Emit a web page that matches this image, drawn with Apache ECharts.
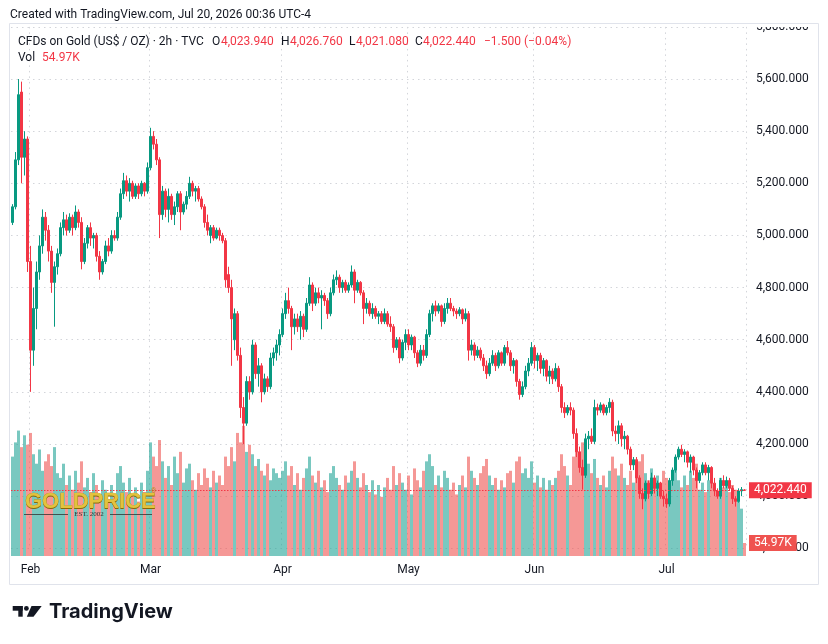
<!DOCTYPE html>
<html lang="en">
<head>
<meta charset="UTF-8">
<title>CFDs on Gold 2h</title>
<style>
    html, body { margin: 0; padding: 0; background: #fff; }
    #main { width: 828px; height: 644px; }
</style>
</head>
<body>
<div id="main"></div>
<script src="https://cdn.jsdelivr.net/npm/echarts@6/dist/echarts.min.js"></script>
<script>
    // half-day bars, [open, close, low, high]
    var candles = [
        [5050,5110,5040,5120],[5110,5290,5100,5320],[5290,5540,5270,5600],[5550,5300,5200,5590],[5300,5370,5230,5400],
        [5370,4900,4860,5380],[4900,4560,4400,4960],[4560,4720,4500,4800],[4720,4860,4640,4900],[4860,4960,4830,5000],
        [4960,5070,4930,5100],[5070,5020,4980,5090],[5020,4940,4900,5040],[4940,4820,4780,4960],[4820,4880,4650,4900],
        [4880,4930,4850,4950],[4930,5030,4920,5050],[5030,5060,5000,5090],[5060,5020,5000,5080],[5020,5070,5010,5085],
        [5070,5030,5000,5080],[5030,5090,5020,5115],[5090,5050,5030,5100],[5050,4900,4870,5070],[4900,4970,4890,4990],
        [4970,5030,4950,5040],[5030,4990,4960,5050],[4990,5000,4950,5010],[5000,4920,4900,5010],[4920,4860,4830,4940],
        [4860,4900,4850,4910],[4900,4960,4890,4980],[4960,4940,4920,4990],[4940,5000,4930,5020],[5000,4990,4980,5020],
        [4990,5070,4980,5090],[5070,5160,5060,5180],[5160,5210,5140,5240],[5210,5170,5150,5230],[5170,5200,5130,5220],
        [5200,5150,5140,5210],[5150,5190,5140,5200],[5190,5160,5140,5200],[5160,5200,5150,5210],[5200,5170,5150,5205],
        [5170,5260,5160,5280],[5260,5380,5250,5413],[5380,5350,5330,5400],[5350,5290,5270,5370],[5290,5080,4990,5300],
        [5080,5170,5060,5190],[5170,5100,5070,5180],[5100,5150,5050,5180],[5150,5080,5060,5160],[5080,5110,5040,5130],
        [5110,5160,5090,5170],[5160,5090,5020,5170],[5090,5120,5080,5130],[5120,5150,5100,5170],[5150,5200,5140,5225],
        [5200,5170,5150,5210],[5170,5180,5130,5190],[5180,5140,5130,5190],[5140,5110,5100,5150],[5110,5050,5030,5120],
        [5050,5020,5000,5080],[5000,5030,4970,5040],[5030,4990,4980,5040],[4990,5020,4985,5030],[5020,5000,4980,5030],
        [5000,4980,4970,5010],[4980,4830,4800,4990],[4850,4800,4780,4880],[4800,4680,4500,4830],[4600,4700,4560,4720],
        [4700,4540,4520,4710],[4540,4340,4300,4570],[4340,4280,4200,4380],[4280,4440,4270,4460],[4440,4400,4370,4460],
        [4400,4580,4390,4600],[4580,4470,4450,4590],[4470,4500,4420,4530],[4500,4400,4360,4510],[4400,4450,4390,4470],
        [4450,4420,4400,4460],[4420,4530,4410,4550],[4530,4550,4500,4570],[4550,4580,4520,4600],[4580,4620,4540,4640],
        [4620,4700,4610,4720],[4700,4750,4680,4780],[4750,4720,4700,4800],[4720,4650,4560,4730],[4650,4680,4620,4700],
        [4680,4650,4630,4700],[4650,4690,4600,4710],[4690,4640,4610,4700],[4640,4740,4630,4760],[4740,4810,4730,4840],
        [4810,4740,4710,4820],[4740,4780,4730,4800],[4780,4760,4740,4800],[4760,4770,4640,4790],[4770,4750,4730,4780],
        [4750,4700,4680,4760],[4700,4780,4690,4800],[4780,4830,4770,4850],[4830,4840,4810,4866],[4840,4800,4780,4850],
        [4800,4820,4780,4830],[4820,4790,4780,4830],[4790,4810,4780,4820],[4810,4860,4800,4885],[4860,4790,4740,4870],
        [4790,4820,4780,4830],[4820,4780,4770,4825],[4780,4720,4660,4790],[4720,4740,4700,4760],[4740,4700,4690,4750],
        [4700,4720,4680,4740],[4720,4690,4680,4730],[4690,4700,4660,4710],[4700,4670,4660,4710],[4670,4700,4660,4720],
        [4700,4660,4650,4710],[4660,4650,4630,4690],[4650,4570,4550,4660],[4570,4600,4560,4610],[4600,4530,4510,4610],
        [4530,4590,4520,4600],[4590,4620,4560,4640],[4620,4580,4560,4640],[4580,4610,4560,4620],[4610,4550,4530,4615],
        [4550,4510,4495,4560],[4510,4560,4500,4580],[4560,4540,4520,4580],[4540,4620,4530,4640],[4620,4700,4610,4715],
        [4700,4730,4670,4740],[4730,4710,4690,4750],[4710,4730,4700,4740],[4730,4670,4650,4735],[4670,4720,4660,4740],
        [4720,4740,4700,4760],[4740,4720,4710,4760],[4720,4710,4690,4730],[4710,4700,4680,4720],[4700,4715,4690,4725],
        [4715,4680,4660,4720],[4680,4700,4670,4720],[4700,4560,4520,4710],[4560,4580,4540,4600],[4580,4540,4520,4590],
        [4540,4560,4530,4575],[4560,4530,4520,4570],[4530,4500,4480,4545],[4500,4470,4450,4520],[4470,4510,4460,4530],
        [4510,4540,4500,4560],[4540,4500,4480,4550],[4500,4550,4490,4560],[4550,4510,4500,4555],[4510,4570,4500,4580],
        [4570,4550,4540,4595],[4550,4500,4480,4560],[4500,4520,4470,4530],[4520,4440,4420,4525],[4440,4390,4370,4450],
        [4390,4420,4380,4440],[4420,4480,4410,4500],[4480,4510,4460,4530],[4510,4570,4500,4591],[4570,4520,4490,4580],
        [4520,4540,4480,4550],[4540,4490,4470,4550],[4490,4520,4460,4530],[4520,4460,4440,4525],[4460,4480,4430,4500],
        [4480,4450,4430,4490],[4450,4490,4440,4510],[4490,4420,4400,4500],[4420,4340,4320,4430],[4340,4320,4300,4360],
        [4320,4340,4310,4350],[4340,4330,4310,4360],[4330,4240,4220,4340],[4240,4170,4150,4260],[4170,4110,4090,4190],
        [4110,4080,4025,4140],[4080,4220,4070,4240],[4220,4230,4180,4250],[4230,4210,4200,4260],[4210,4340,4200,4370],
        [4340,4330,4310,4355],[4330,4350,4320,4360],[4350,4320,4310,4355],[4320,4340,4310,4350],[4340,4360,4320,4376],
        [4360,4250,4230,4370],[4250,4240,4210,4270],[4240,4270,4200,4290],[4270,4220,4190,4280],[4220,4230,4180,4250],
        [4230,4180,4160,4235],[4180,4120,4100,4190],[4120,4140,4100,4150],[4140,4070,4050,4150],[4070,4010,3990,4080],
        [4010,3990,3950,4030],[3990,4050,3980,4060],[4050,4010,3990,4060],[4010,4070,4000,4090],[4070,4030,4010,4080],
        [4030,4050,4000,4060],[4050,4000,3990,4055],[4000,3990,3960,4020],[3990,3970,3955,4010],[3970,4060,3960,4070],
        [4060,4100,4040,4110],[4100,4150,4090,4160],[4150,4180,4140,4190],[4180,4160,4150,4197],[4160,4170,4130,4180],
        [4170,4130,4110,4175],[4130,4150,4090,4160],[4150,4100,4080,4155],[4100,4060,4030,4110],[4060,4090,4050,4100],
        [4090,4120,4080,4130],[4120,4090,4080,4130],[4090,4110,4060,4120],[4110,4050,4030,4115],[4050,4020,4000,4070],
        [4020,4000,3990,4030],[4000,4060,3990,4070],[4060,4040,4030,4080],[4040,4060,4030,4075],[4060,4030,4020,4070],
        [4030,3990,3970,4040],[3990,3980,3960,4000],[3980,4020,3975,4030],[4020,4025,4000,4035],[4023.94,4022.44,4021.08,4026.76]
    ];

    // volume, thousands
    var volumes = [
        420,480,530,460,510,470,520,430,390,450,
        360,400,430,380,460,350,330,390,300,340,
        280,360,310,400,290,330,270,350,300,260,
        320,280,240,300,260,350,380,310,270,330,
        250,290,230,310,270,360,480,420,380,490,
        400,330,380,300,420,350,440,310,370,390,
        320,280,350,300,370,330,290,360,310,340,
        300,420,380,460,400,520,480,550,440,470,
        430,380,410,360,340,390,320,370,350,330,
        360,400,340,380,300,350,280,330,370,420,
        340,310,360,290,320,270,350,380,330,300,
        280,340,310,360,400,330,290,350,300,270,
        320,260,300,250,290,330,280,380,300,350,
        310,280,340,260,370,320,290,360,400,430,
        380,300,340,290,360,330,280,310,260,300,
        340,290,420,360,330,300,350,380,410,340,
        300,330,280,320,290,350,360,310,400,420,
        350,370,330,400,310,340,290,330,280,320,
        300,330,360,430,380,340,300,420,460,440,
        480,430,390,350,410,330,300,340,290,360,
        420,370,340,390,330,300,360,310,380,400,
        430,350,320,370,290,340,310,360,330,300,
        350,380,320,290,340,300,360,330,390,280,
        310,270,320,350,300,260,330,290,310,270,
        300,280,250,200,54.97
    ];

    var monthNames = ['Feb', 'Mar', 'Apr', 'May', 'Jun', 'Jul'];
    var monthFirstBar = [6, 46, 90, 132, 174, 218];
    var priceChange = '\u22121.500 (\u22120.04%)';

    var upColor = '#089981';
    var downColor = '#f23645';
    var textColor = '#131722';
    var gridColor = '#d3d5da';

    var cats = candles.map(function (c, i) { return String(i); });
    var last = candles[candles.length - 1];
    var lastVol = volumes[volumes.length - 1];

    function fmt(v) {
        return Number(v).toLocaleString('en-US', {minimumFractionDigits: 3, maximumFractionDigits: 3});
    }
    function isMonthStart(i) { return monthFirstBar.indexOf(i) >= 0; }

    var volData = volumes.map(function (v, i) {
        var up = candles[i][1] >= candles[i][0];
        return {value: v, itemStyle: {color: up ? 'rgba(38,166,154,0.62)' : 'rgba(239,83,80,0.6)'}};
    });

    function txt(s, x, y, color, font, extra) {
        var el = {type: 'text', x: x, y: y, z: 70, silent: true,
            style: {text: s, fill: color, font: font || '12px Roboto', verticalAlign: 'middle'}};
        if (extra) for (var k in extra) el.style[k] = extra[k];
        return el;
    }

    var chart = echarts.init(document.getElementById('main'));

    var option = {
        animation: false,
        textStyle: {fontFamily: 'Roboto'},
        grid: [
            {left: 11, right: 82, top: 26.9, bottom: 95.7},
            {left: 11, right: 82, top: 414, bottom: 88}
        ],
        xAxis: [
            {
                type: 'category', gridIndex: 0, data: cats,
                axisLine: {show: false}, axisTick: {show: false}, axisLabel: {show: false},
                splitLine: {show: true, interval: function (i) { return isMonthStart(i); },
                    lineStyle: {color: gridColor, type: [1.5, 4]}}
            },
            {
                type: 'category', gridIndex: 1, data: cats,
                axisLine: {show: false}, axisTick: {show: false},
                axisLabel: {
                    interval: function (i) { return isMonthStart(i); },
                    formatter: function (v, i) { return monthNames[monthFirstBar.indexOf(i)] || ''; },
                    color: textColor, fontSize: 12, margin: 8
                },
                splitLine: {show: false}
            }
        ],
        yAxis: [
            {
                type: 'value', gridIndex: 0, position: 'right',
                min: 3800, max: 5800, interval: 200,
                axisLine: {show: false}, axisTick: {show: false},
                axisLabel: {color: textColor, fontSize: 12, margin: 10, formatter: fmt},
                splitLine: {lineStyle: {color: gridColor, type: [1.5, 4]}}
            },
            {type: 'value', gridIndex: 1, min: 0, max: 600, show: false}
        ],
        series: [
            {
                name: 'Vol', type: 'bar', xAxisIndex: 1, yAxisIndex: 1,
                data: volData, barWidth: 3,
                markLine: {
                    symbol: 'none', silent: true, animation: false,
                    data: [{yAxis: lastVol}],
                    lineStyle: {color: 'rgba(0,0,0,0)'},
                    label: {position: 'end', distance: 3, formatter: lastVol + 'K',
                        backgroundColor: '#ef5350', color: '#fff', padding: [2, 5, 2, 5], fontSize: 12}
                }
            },
            {
                name: 'Gold', type: 'candlestick', xAxisIndex: 0, yAxisIndex: 0,
                data: candles, barWidth: 2,
                itemStyle: {color: upColor, color0: downColor, borderColor: upColor, borderColor0: downColor, borderWidth: 1},
                markLine: {
                    symbol: 'none', silent: true, animation: false,
                    data: [{yAxis: last[1]}],
                    lineStyle: {color: downColor, type: [1.5, 1.5], width: 1},
                    label: {position: 'end', distance: 3, formatter: fmt(last[1]),
                        backgroundColor: downColor, color: '#fff', padding: [2, 5, 2, 5], fontSize: 12}
                }
            }
        ],
        graphic: [
            // hide the clipped top of the 5,800 label
            {type: 'rect', z: 50, silent: true, shape: {x: 747, y: 0, width: 70, height: 27}, style: {fill: '#fff'}},
            {type: 'rect', z: 60, silent: true, shape: {x: 9.5, y: 23.5, width: 809, height: 561},
                style: {fill: 'none', stroke: '#e0e3eb', lineWidth: 1}},

            txt('Created with TradingView.com, Jul 20, 2026 00:36 UTC-4', 10, 15, textColor),
            txt('CFDs on Gold (US$ / OZ) \u00b7 2h \u00b7 TVC', 18, 42, textColor),
            txt('O', 212, 42, textColor), txt(fmt(last[0]), 221, 42, downColor),
            txt('H', 281, 42, textColor), txt(fmt(last[3]), 290, 42, downColor),
            txt('L', 349, 42, textColor), txt(fmt(last[2]), 356, 42, downColor),
            txt('C', 415, 42, textColor), txt(fmt(last[1]), 423, 42, downColor),
            txt(priceChange, 484, 42, downColor),
            txt('Vol', 18, 58, textColor), txt(lastVol + 'K', 42, 58, downColor),

            // GOLDPRICE watermark
            txt('GOLDPRICE', 25, 503, '#7d5f06', 'bold 22px "Liberation Sans"'),
            txt('GOLDPRICE', 25, 502, '#e2c23e', 'bold 22px "Liberation Sans"', {stroke: '#a8860e', lineWidth: 0.5}),
            txt('\u00ae', 151, 491, '#a88a10', '7px "Liberation Sans"'),
            {type: 'line', z: 70, silent: true, shape: {x1: 24, y1: 514.5, x2: 68, y2: 514.5}, style: {stroke: '#333', lineWidth: 0.8}},
            {type: 'line', z: 70, silent: true, shape: {x1: 110, y1: 514.5, x2: 152, y2: 514.5}, style: {stroke: '#333', lineWidth: 0.8}},
            txt('EST. 2002', 89, 514.5, '#333', '7px "Liberation Serif"', {align: 'center'}),

            // TradingView logo
            {type: 'rect', z: 70, silent: true, shape: {x: 12.7, y: 606, width: 10, height: 4.7}, style: {fill: textColor}},
            {type: 'rect', z: 70, silent: true, shape: {x: 18.3, y: 606, width: 4.4, height: 10.7}, style: {fill: textColor}},
            {type: 'circle', z: 70, silent: true, shape: {cx: 26.4, cy: 608.4, r: 2.4}, style: {fill: textColor}},
            {type: 'polygon', z: 70, silent: true, shape: {points: [[31.5, 606], [41.7, 606], [33.5, 616.7], [26.8, 616.7]]}, style: {fill: textColor}},
            txt('TradingView', 49, 612, textColor, 'bold 20px Inter')
        ]
    };

    chart.setOption(option);
</script>
</body>
</html>
